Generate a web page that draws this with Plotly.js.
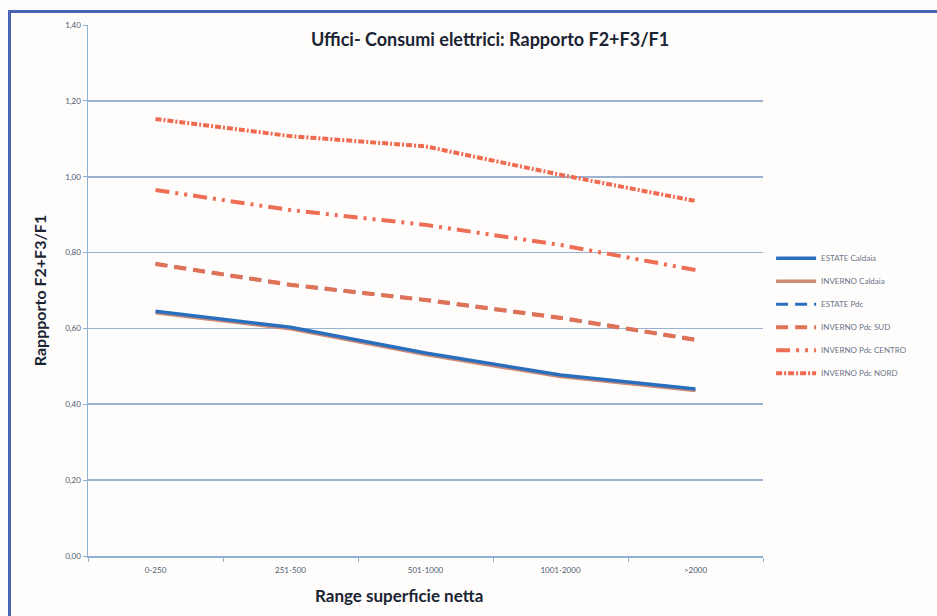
<!DOCTYPE html>
<html>
<head>
<meta charset="utf-8">
<script src="https://cdn.plot.ly/plotly-3.0.1.min.js"></script>
<style>
html,body{margin:0;padding:0;background:#fffdfc;}
#wrap{position:absolute;left:0;top:0;width:937px;height:616px;overflow:hidden;}
#frame{position:absolute;left:8px;top:10px;width:940px;height:620px;border-left:3px solid #4a66b3;border-top:3px solid #4a66b3;box-sizing:border-box;pointer-events:none;}
#chart{position:absolute;left:0;top:0;width:937px;height:616px;}
</style>
</head>
<body>
<div id="wrap">
<div id="chart"></div>
<div id="frame"></div>
</div>
<script>
const categories = ["0-250", "251-500", "501-1000", "1001-2000", ">2000"];
const estateCaldaia = [0.645, 0.603, 0.535, 0.477, 0.440];
const invernoCaldaia = [0.641, 0.599, 0.531, 0.473, 0.436];
const estatePdc = [0.770, 0.715, 0.675, 0.628, 0.570];
const invernoPdcSud = [0.770, 0.715, 0.675, 0.628, 0.570];
const invernoPdcCentro = [0.965, 0.912, 0.873, 0.820, 0.754];
const invernoPdcNord = [1.152, 1.107, 1.080, 1.005, 0.936];
const yTickVals = [0, 0.2, 0.4, 0.6, 0.8, 1.0, 1.2, 1.4];
const yTickText = ["0,00", "0,20", "0,40", "0,60", "0,80", "1,00", "1,20", "1,40"];

const sudDash = "12px,7px";
const traces = [
  {name: "ESTATE Caldaia", x: categories, y: estateCaldaia, mode: "lines",
   line: {color: "#2a6fbd", width: 3.5}},
  {name: "INVERNO Caldaia", x: categories, y: invernoCaldaia, mode: "lines",
   line: {color: "#cf8a74", width: 3.5}},
  {name: "ESTATE Pdc", x: categories, y: estatePdc, mode: "lines",
   line: {color: "#2a6fbd", width: 3.2, dash: sudDash}},
  {name: "INVERNO Pdc SUD", x: categories, y: invernoPdcSud, mode: "lines",
   line: {color: "#e07258", width: 4.2, dash: sudDash}},
  {name: "INVERNO Pdc CENTRO", x: categories, y: invernoPdcCentro, mode: "lines",
   line: {color: "#ee6e55", width: 4, dash: "14px,6px,3px,6px,3px,6px"}},
  {name: "INVERNO Pdc NORD", x: categories, y: invernoPdcNord, mode: "lines",
   line: {color: "#ef6a4f", width: 4, dash: "6px,2px,2px,2px"}}
];

// drawing order: hidden-under series first; legend order kept with legendrank
const order = [2, 1, 0, 3, 4, 5];
const data = order.map(i => Object.assign({legendrank: i + 1, legendgroup: "g" + i}, traces[i]));

const layout = {
  width: 937, height: 616,
  paper_bgcolor: "#fffdfc",
  plot_bgcolor: "#fffdfc",
  margin: {l: 88, r: 174, t: 25, b: 60},
  font: {family: "Lato, 'Open Sans', sans-serif", color: "#5a6a80"},
  title: {text: "Uffici- Consumi elettrici: Rapporto F2+F3/F1",
          x: 0.523, xanchor: "center", y: 0.935, yanchor: "middle",
          font: {family: "Lato, sans-serif", size: 18, color: "#1a2433", weight: "bold"}},
  showlegend: true,
  legend: {x: 1.012, xanchor: "left", y: 0.588, yanchor: "top",
           font: {size: 8, color: "#6a7488"}, bgcolor: "rgba(0,0,0,0)",
           tracegroupgap: 4, itemwidth: 40},
  xaxis: {
    type: "category",
    range: [-0.5, 4.5],
    showgrid: false,
    showline: true, linecolor: "#8fb2d4", linewidth: 1.5,
    ticks: "outside", ticklen: 4, tickcolor: "#8fb2d4",
    tickson: "boundaries",
    tickfont: {size: 8, color: "#4a5a70"},
    ticklabelstandoff: 6
  },
  yaxis: {
    range: [0, 1.4],
    tickvals: yTickVals, ticktext: yTickText,
    showgrid: true, gridcolor: "#99b4d0", gridwidth: 1.6,
    zeroline: false,
    showline: true, linecolor: "#8fb2d4", linewidth: 1.5,
    ticks: "outside", ticklen: 4, tickcolor: "#8fb2d4",
    tickfont: {size: 8, color: "#4a5a70"},
    title: {text: "Rappporto F2+F3/F1", standoff: 14,
            font: {family: "Lato, sans-serif", size: 16, color: "#1a2433", weight: "bold"}}
  },
  annotations: [{
    text: "Range superficie netta", xref: "paper", yref: "paper",
    x: 0.46, y: -0.075, xanchor: "center", yanchor: "middle", showarrow: false,
    font: {family: "Lato, sans-serif", size: 17, color: "#1a2433", weight: "bold"}
  }]
};

Plotly.newPlot("chart", data, layout, {displayModeBar: false, staticPlot: true});
</script>
</body>
</html>
